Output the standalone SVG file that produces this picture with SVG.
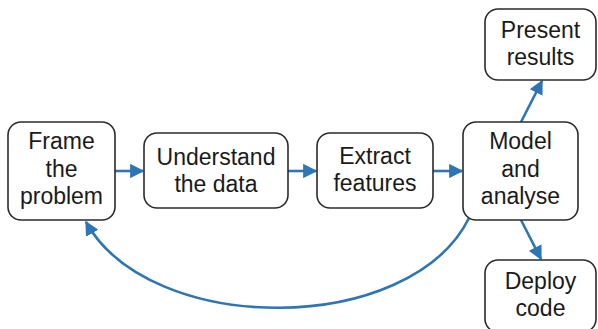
<svg xmlns="http://www.w3.org/2000/svg" width="598" height="329" viewBox="0 0 598 329">
<style>
.box{fill:#fff;stroke:#2b2b2b;stroke-width:1.6}
.t{font-family:"Liberation Sans",Arial,sans-serif;font-size:23px;fill:#1a1a1a;text-anchor:middle}
.c{fill:none;stroke:#2e75b6;stroke-width:2.6}
</style>
<defs>
<marker id="ah" viewBox="0 0 10 10" refX="9" refY="5" markerWidth="5.5" markerHeight="5.5" markerUnits="strokeWidth" orient="auto">
<path d="M0,0 L10,5 L0,10 z" fill="#2e75b6"/>
</marker>
</defs>
<rect width="598" height="329" fill="#fff"/>
<g id="connectors">
<line class="c" x1="115" y1="171" x2="143" y2="171" marker-end="url(#ah)"/>
<line class="c" x1="288" y1="171" x2="316" y2="171" marker-end="url(#ah)"/>
<line class="c" x1="433" y1="171" x2="462" y2="171" marker-end="url(#ah)"/>
<line class="c" x1="521" y1="122" x2="542" y2="81" marker-end="url(#ah)"/>
<line class="c" x1="521" y1="220" x2="541" y2="259" marker-end="url(#ah)"/>
<path class="c" d="M469,218 C410,337 150,337 86,222" marker-end="url(#ah)"/>
</g>
<g id="frame">
<rect class="box" x="8" y="122" width="107" height="98" rx="13"/>
<text class="t" x="61.5" y="149">Frame</text>
<text class="t" x="61.5" y="177">the</text>
<text class="t" x="61.5" y="204">problem</text>
</g>
<g id="understand">
<rect class="box" x="144" y="133" width="144" height="75" rx="13"/>
<text class="t" x="216" y="165">Understand</text>
<text class="t" x="216" y="192">the data</text>
</g>
<g id="extract">
<rect class="box" x="317" y="133" width="116" height="75" rx="13"/>
<text class="t" x="375" y="164">Extract</text>
<text class="t" x="375" y="191">features</text>
</g>
<g id="model">
<rect class="box" x="463" y="122" width="115" height="98" rx="13"/>
<text class="t" x="520.5" y="149">Model</text>
<text class="t" x="520.5" y="177">and</text>
<text class="t" x="520.5" y="204">analyse</text>
</g>
<g id="present">
<rect class="box" x="485" y="9" width="111" height="71" rx="13"/>
<text class="t" x="540.5" y="38">Present</text>
<text class="t" x="540.5" y="65">results</text>
</g>
<g id="deploy">
<rect class="box" x="485" y="260" width="111" height="72" rx="13"/>
<text class="t" x="540.5" y="289">Deploy</text>
<text class="t" x="540.5" y="316">code</text>
</g>
</svg>
